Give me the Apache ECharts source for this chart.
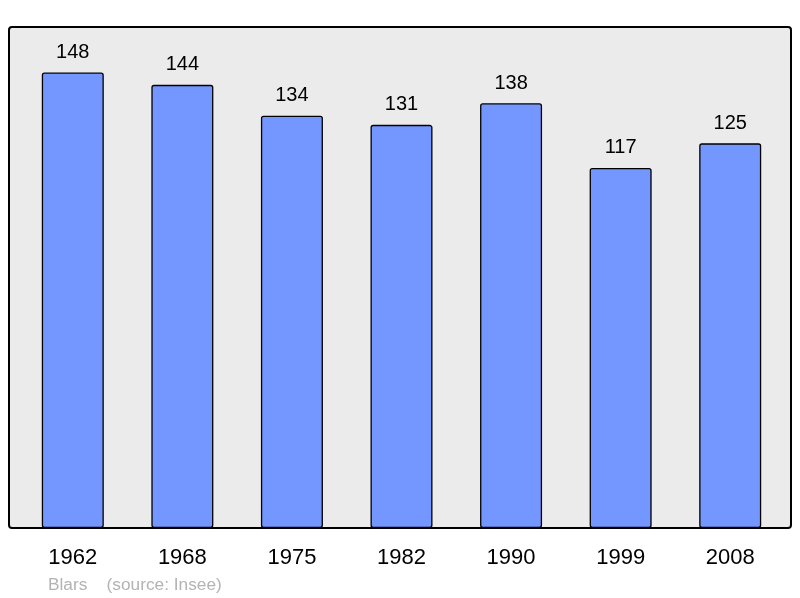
<!DOCTYPE html>
<html><head><meta charset="utf-8">
<script src="https://cdn.jsdelivr.net/npm/echarts@6/dist/echarts.min.js"></script>
<style>html,body{margin:0;padding:0;background:#fff}#c{width:800px;height:598px}</style>
</head><body><div id="c"></div>
<script>
const categories = ['1962','1968','1975','1982','1990','1999','2008'];
const population = [148,144,134,131,138,117,125];
const title = 'Blars    (source: Insee)';

const chart = echarts.init(document.getElementById('c'), null, {renderer:'canvas'});
chart.setOption({
  animation:false,
  backgroundColor:'#fff',
  graphic:[
    {type:'rect', z:-10, shape:{x:9,y:27,width:782,height:501,r:3},
     style:{fill:'#ebebeb', stroke:'#000', lineWidth:2}}
  ],
  title:{text:title, left:48, top:577, padding:0, textStyle:{fontFamily:'Liberation Sans', fontSize:17.3, fontWeight:'normal', color:'#b3b3b3'}},
  grid:{left:18, right:15, top:27, bottom:70},
  xAxis:{type:'category', data:categories,
    axisLine:{show:false}, axisTick:{show:false},
    axisLabel:{fontFamily:'Liberation Sans', fontSize:22, color:'#000', margin:19}},
  yAxis:{type:'value', min:0, max:162.8, show:false, splitLine:{show:false}},
  series:[{type:'bar', data:population, barWidth:62,
    itemStyle:{color:'#7396ff', borderColor:'#000', borderWidth:1.3, borderRadius:2},
    label:{show:true, position:'top', distance:10, fontFamily:'Liberation Sans', fontSize:20, color:'#000'}}]
});
</script></body></html>
